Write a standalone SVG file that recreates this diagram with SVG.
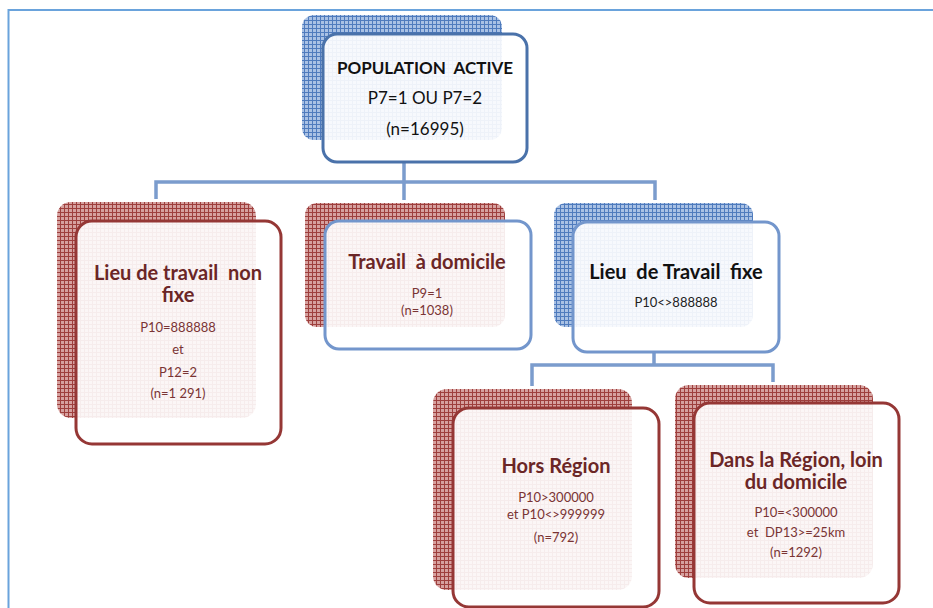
<svg xmlns="http://www.w3.org/2000/svg" width="933" height="608" viewBox="0 0 933 608" xml:space="preserve">
<defs>
<pattern id="gridRed" width="4" height="4" patternUnits="userSpaceOnUse">
<rect width="4" height="4" fill="#d6a19f"/>
<path d="M0,0.5H4M0.5,0V4" stroke="#9e3f3d" stroke-width="1"/>
</pattern>
<pattern id="gridBlue" width="4" height="4" patternUnits="userSpaceOnUse">
<rect width="4" height="4" fill="#a9c1e4"/>
<path d="M0,0.5H4M0.5,0V4" stroke="#4f7bbd" stroke-width="1"/>
</pattern>
</defs>
<style>
.shR{fill:url(#gridRed);}
.shB{fill:url(#gridBlue);}
.fr{fill:#ffffff;fill-opacity:0.9;stroke-width:3;}
.sR{stroke:#953735;}
.sB{stroke:#7396cc;}
.sBd{stroke:#4a72aa;}
.conn{fill:none;stroke:#7b9ccd;stroke-width:3.5;}
.frame{fill:none;stroke:#6aa3dc;stroke-width:2;}
text{font-family:Lato,"Liberation Sans",sans-serif;text-anchor:middle;white-space:pre;}
.tR{font-weight:bold;font-size:20px;fill:#6b2626;}
.sRt{font-size:13px;fill:#7a3434;}
.tK{font-weight:bold;font-size:20px;fill:#111111;}
.sK{font-size:13px;fill:#222222;}
</style>
<path class="frame" d="M8.5,608V10H933"/>
<g id="connectors">
<path class="conn" d="M404,163V182M156,199V182H655V200M404,182V200"/>
<path class="conn" d="M654,352V365M532,386V365H773V382"/>
</g>
<g id="node-population">
<rect class="shB" x="302" y="15" width="200" height="125" rx="12"/>
<rect class="fr sBd" x="323" y="34" width="204" height="128" rx="14"/>
<text x="425" y="74" style="font-weight:bold;font-size:17px;fill:#111">POPULATION  ACTIVE</text>
<text x="425" y="104" style="font-size:17px;fill:#111">P7=1 OU P7=2</text>
<text x="425" y="135" style="font-size:17px;fill:#111">(n=16995)</text>
</g>
<g id="node-non-fixe">
<rect class="shR" x="57" y="202" width="199" height="216" rx="14"/>
<rect class="fr sR" x="76" y="221" width="205" height="223" rx="16"/>
<text class="tR" x="178" y="280">Lieu de travail  non</text>
<text class="tR" x="178" y="302">fixe</text>
<text class="sRt" x="178" y="332">P10=888888</text>
<text class="sRt" x="178" y="354">et</text>
<text class="sRt" x="178" y="377">P12=2</text>
<text class="sRt" x="178" y="398">(n=1 291)</text>
</g>
<g id="node-domicile">
<rect class="shR" x="305" y="203" width="200" height="124" rx="12"/>
<rect class="fr sB" x="325" y="221" width="206" height="128" rx="14"/>
<text class="tR" x="427" y="269">Travail  à domicile</text>
<text class="sRt" x="427" y="298">P9=1</text>
<text class="sRt" x="427" y="315">(n=1038)</text>
</g>
<g id="node-fixe">
<rect class="shB" x="554" y="203" width="199" height="124" rx="12"/>
<rect class="fr sB" x="573" y="222" width="206" height="130" rx="14"/>
<text class="tK" x="676" y="279">Lieu  de Travail  fixe</text>
<text class="sK" x="676" y="307">P10&lt;&gt;888888</text>
</g>
<g id="node-hors-region">
<rect class="shR" x="433" y="389" width="199" height="201" rx="14"/>
<rect class="fr sR" x="453" y="408" width="206" height="199" rx="16"/>
<text class="tR" x="556" y="473">Hors Région</text>
<text class="sRt" x="556" y="502">P10&gt;300000</text>
<text class="sRt" x="556" y="519">et P10&lt;&gt;999999</text>
<text class="sRt" x="556" y="542">(n=792)</text>
</g>
<g id="node-dans-region">
<rect class="shR" x="675" y="385" width="198" height="193" rx="14"/>
<rect class="fr sR" x="694" y="403" width="205" height="200" rx="16"/>
<text class="tR" x="796" y="467">Dans la Région, loin</text>
<text class="tR" x="796" y="489">du domicile</text>
<text class="sRt" x="796" y="517">P10=&lt;300000</text>
<text class="sRt" x="796" y="537">et  DP13&gt;=25km</text>
<text class="sRt" x="796" y="557">(n=1292)</text>
</g>
</svg>
